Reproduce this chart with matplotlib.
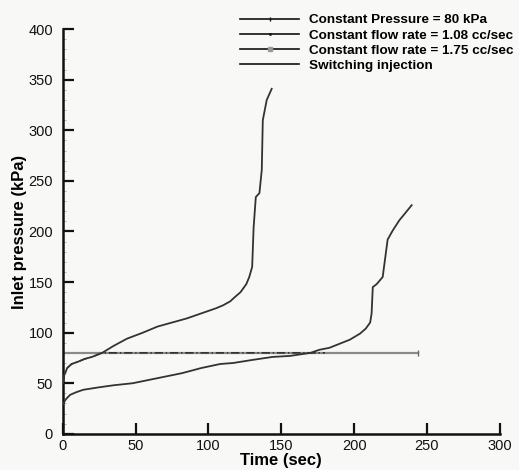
import matplotlib
matplotlib.use("Agg")
import matplotlib.pyplot as plt
from matplotlib.lines import Line2D
from matplotlib.ticker import MultipleLocator

plt.rcParams['font.family'] = ['Liberation Sans', 'DejaVu Sans']

# constant flow rate 1.75 cc/sec
t_175 = [0, 1, 3, 6, 10, 15, 20, 27, 35, 44, 55, 65, 75, 85, 95, 105, 110, 115,
         118, 122, 126, 128, 130, 131, 132.5, 135, 136.6, 137.3, 140, 143.4]
p_175 = [50, 58, 65, 69, 71, 74, 76, 80, 87, 94, 100, 106, 110, 114, 119, 124, 127, 131,
         135, 140, 148, 155, 165, 204, 234, 238, 261, 310, 330, 341]

# constant flow rate 1.08 cc/sec
t_108 = [0, 2, 5, 9, 14, 25, 35, 48, 65, 82, 95, 108, 117, 130, 144, 156, 170, 176,
         183, 190, 197, 204, 208, 211, 212, 212.8, 215.5, 219.6, 223, 226.5, 231, 235, 239.5]
p_108 = [29, 34, 38.5, 41, 43.5, 46, 48, 50, 55, 60, 65, 69, 70, 73, 76, 77, 80, 83,
         85, 89, 93, 99, 104, 110, 119, 145, 148, 155, 192, 201, 211, 218, 226]

# constant pressure 80 kPa
t_cp = [0, 243.6]
p_cp = [80, 80]

# switching: 1.75 cc/sec until 80 kPa, then held at 80 kPa
t_sw = [0, 1, 3, 6, 10, 15, 20, 27, 180]
p_sw = [50, 58, 65, 69, 71, 74, 76, 80, 80]

labels = ['Constant Pressure = 80 kPa', 'Constant flow rate = 1.08 cc/sec',
          'Constant flow rate = 1.75 cc/sec', 'Switching injection']

fig = plt.figure(figsize=(5.19, 4.70), dpi=100, facecolor='#f8f8f6')
ax = fig.add_axes([0.121, 0.077, 0.842, 0.861])
ax.set_facecolor('#f8f8f6')

ax.plot(t_cp, p_cp, color='#8a8a8a', lw=1.6, zorder=2)
ax.plot(t_cp, p_cp, ls='none', marker='|', ms=4, color='#666666', zorder=2)
ax.plot(t_sw, p_sw, color='#222222', lw=1.0, ls=(0, (6, 2, 1, 2)), zorder=3)
ax.plot(t_108, p_108, color='#333333', lw=1.3, zorder=3)
ax.plot(t_175, p_175, color='#333333', lw=1.3, zorder=3)

ax.set_xlim(0, 300)
ax.set_ylim(0, 400)
ax.xaxis.set_major_locator(MultipleLocator(50))
ax.yaxis.set_major_locator(MultipleLocator(50))
ax.yaxis.set_minor_locator(MultipleLocator(10))
ax.tick_params(which='major', direction='in', length=8, width=1.6, labelsize=10.5,
               colors='#111111')
ax.tick_params(axis='y', which='major', pad=7)
ax.tick_params(axis='x', which='major', pad=4)
ax.tick_params(axis='y', which='minor', direction='in', length=2, width=0.5,
               color='#999999')
ax.tick_params(axis='x', which='minor', length=0)
for s in ['top', 'right']:
    ax.spines[s].set_visible(False)
for s in ['left', 'bottom']:
    ax.spines[s].set_linewidth(1.8)
    ax.spines[s].set_color('#111111')

ax.set_xlabel('Time (sec)', fontsize=12, fontweight='bold', labelpad=0)
ax.set_ylabel('Inlet pressure (kPa)', fontsize=12, fontweight='bold', labelpad=1)

handles = [
    Line2D([], [], color='#111111', lw=1.2, marker='|', ms=3),
    Line2D([], [], color='#111111', lw=1.2, marker='.', ms=2),
    Line2D([], [], color='#111111', lw=1.2, marker='s', ms=3, mfc='#999999', mec='#999999'),
    Line2D([], [], color='#111111', lw=1.2),
]
fig.legend(handles, labels, loc='upper left', bbox_to_anchor=(240 / 519, 1 - 14 / 470),
           frameon=False, prop={'weight': 'bold', 'size': 9.7}, handlelength=4.4,
           handletextpad=0.75, labelspacing=0.2, borderpad=0, borderaxespad=0,
           numpoints=1)

fig.savefig('out.png', dpi=100, facecolor=fig.get_facecolor())
